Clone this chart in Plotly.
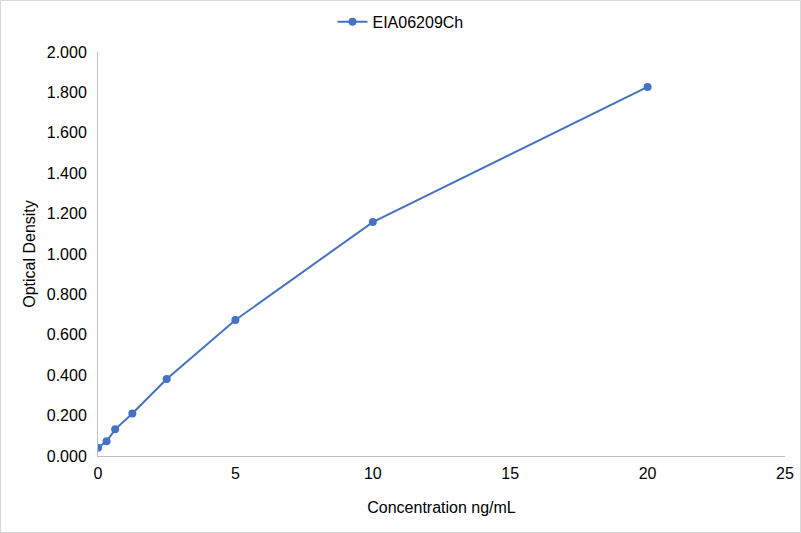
import plotly.graph_objects as go

# Data
concentration = [0, 0.3125, 0.625, 1.25, 2.5, 5, 10, 20]
optical_density = [0.041, 0.073, 0.132, 0.210, 0.381, 0.673, 1.158, 1.827]
y_ticks = [0, 0.2, 0.4, 0.6, 0.8, 1.0, 1.2, 1.4, 1.6, 1.8, 2.0]
x_ticks = [0, 5, 10, 15, 20, 25]

fig = go.Figure()
fig.add_trace(go.Scatter(x=concentration, y=optical_density, mode='lines+markers',
                         name='EIA06209Ch',
                         line=dict(color='#4472C4', width=2),
                         marker=dict(color='#4472C4', size=8)))

fig.update_layout(width=801, height=533,
                  margin=dict(l=98, r=16, t=52, b=77, autoexpand=False),
                  plot_bgcolor='white', paper_bgcolor='white',
                  font=dict(family='Liberation Sans, Arial', size=16, color='#000000'),
                  showlegend=True,
                  legend=dict(orientation='h', xref='container', x=0.5, xanchor='center',
                              yref='container', y=0.959, yanchor='middle',
                              font=dict(size=16, color='#000000')),
                  xaxis=dict(range=[0, 25], tickvals=x_ticks, showgrid=False, zeroline=False,
                             showline=True, linecolor='#BFBFBF', linewidth=1, automargin=False,
                             ticks='', tickfont=dict(size=16, color='#000000'), ticklabelstandoff=3,
                             title=dict(text='Concentration ng/mL', font=dict(size=16), standoff=20)),
                  yaxis=dict(range=[0, 2.0], tickvals=y_ticks, tickformat='.3f', showgrid=False,
                             zeroline=False, showline=True, linecolor='#BFBFBF', linewidth=1,
                             automargin=False,
                             ticks='', tickfont=dict(size=16, color='#000000'), ticklabelstandoff=7,
                             title=dict(text='Optical Density', font=dict(size=16), standoff=7)))

# light border around the whole chart
fig.add_shape(type='rect', xref='paper', yref='paper', x0=-0.1419, x1=1.0226, y0=-0.1894, y1=1.1275,
              line=dict(color='#D9D9D9', width=1), layer='below')

# remove the default page margin so the figure sits at the window corner
fig.write_html("out.html", config={'displayModeBar': False},
               post_script="document.body.style.margin='0px';")
